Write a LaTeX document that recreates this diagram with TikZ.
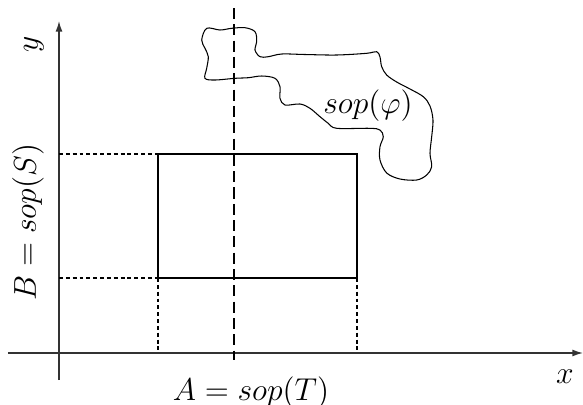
\documentclass[tikz,border=0pt]{standalone}
\usetikzlibrary{arrows.meta}
\begin{document}
\begin{tikzpicture}[x=0.38pt,y=-0.38pt,
  axis/.style={line width=0.5pt,draw=black!80,-{Latex[length=4pt,width=2.6pt]}},
  thin line/.style={line width=0.4pt},
  short dash/.style={line width=0.4pt,dash pattern=on 1.5pt off 1.1pt},
  long dash/.style={line width=0.4pt,dash pattern=on 4.2pt off 2pt},
  lbl/.style={font=\fontsize{11.5}{13}\selectfont,inner sep=0pt}]
\useasboundingbox (0,0) rectangle (583,405);
% axes
\coordinate (xs) at (8,353);
\coordinate (xe) at (583,353);
\coordinate (ys) at (59,380);
\coordinate (ye) at (59,21);
\draw[axis] (xs) -- (xe);
\draw[axis] (ys) -- (ye);
% rectangle
\coordinate (r1) at (158,154);
\coordinate (r2) at (357,278);
\draw[thin line] (r1) rectangle (r2);
% dashed helper lines
\coordinate (ay1) at (59,154);
\coordinate (ay2) at (59,278);
\coordinate (r3) at (158,278);
\coordinate (ax1) at (158,353);
\coordinate (ax2) at (357,353);
\draw[short dash] (ay1) -- (r1);
\draw[short dash] (ay2) -- (r3);
\draw[short dash] (r3) -- (ax1);
\draw[short dash] (r2) -- (ax2);
% long dashed vertical
\coordinate (vt) at (234,8);
\coordinate (vb) at (234,360);
\draw[long dash] (vt) -- (vb);
% blob
\draw[thin line] plot[smooth cycle,tension=0.55] coordinates {
(201.7,40) (206.7,28.3) (220,30) (231.7,28.3) (245,27.7) (255,31.7)
(256.7,41.7) (255,50) (260,56.7) (268.3,56.7) (281.7,54) (305,54.5)
(336.7,55) (366.7,53.3) (376.7,51.7) (380,57) (381.7,66.7) (386.7,75)
(396.7,82) (410,89) (423.3,96.7) (430,106) (433,120) (431.7,136.7)
(430,153.3) (431.7,166.7) (426.7,175) (416.7,180) (400,179) (386.7,173)
(380,160) (380,146.7) (383.3,136.7) (380,130) (370,128.3) (336.7,128.3)
(328.3,123.3) (320,116.7) (310,108.3) (300,104) (285,105) (280,98.3)
(280,86.7) (275,78.3) (261.7,76) (248.3,77.7) (235,78.3) (215,80)
(205,78.3) (206.7,68.3) (208.3,56.7) (205,48.3)};
% labels
\node[lbl] (phi) at (368,106) {$sop(\varphi)$};
\node[lbl,rotate=90] (ylab) at (34,44) {$y$};
\node[lbl,rotate=90] (blab) at (28,222) {$B=sop(S)$};
\node[lbl] (xlab) at (565,377) {$x$};
\node[lbl] (alab) at (251,393) {$A=sop(T)$};
\end{tikzpicture}
\end{document}
